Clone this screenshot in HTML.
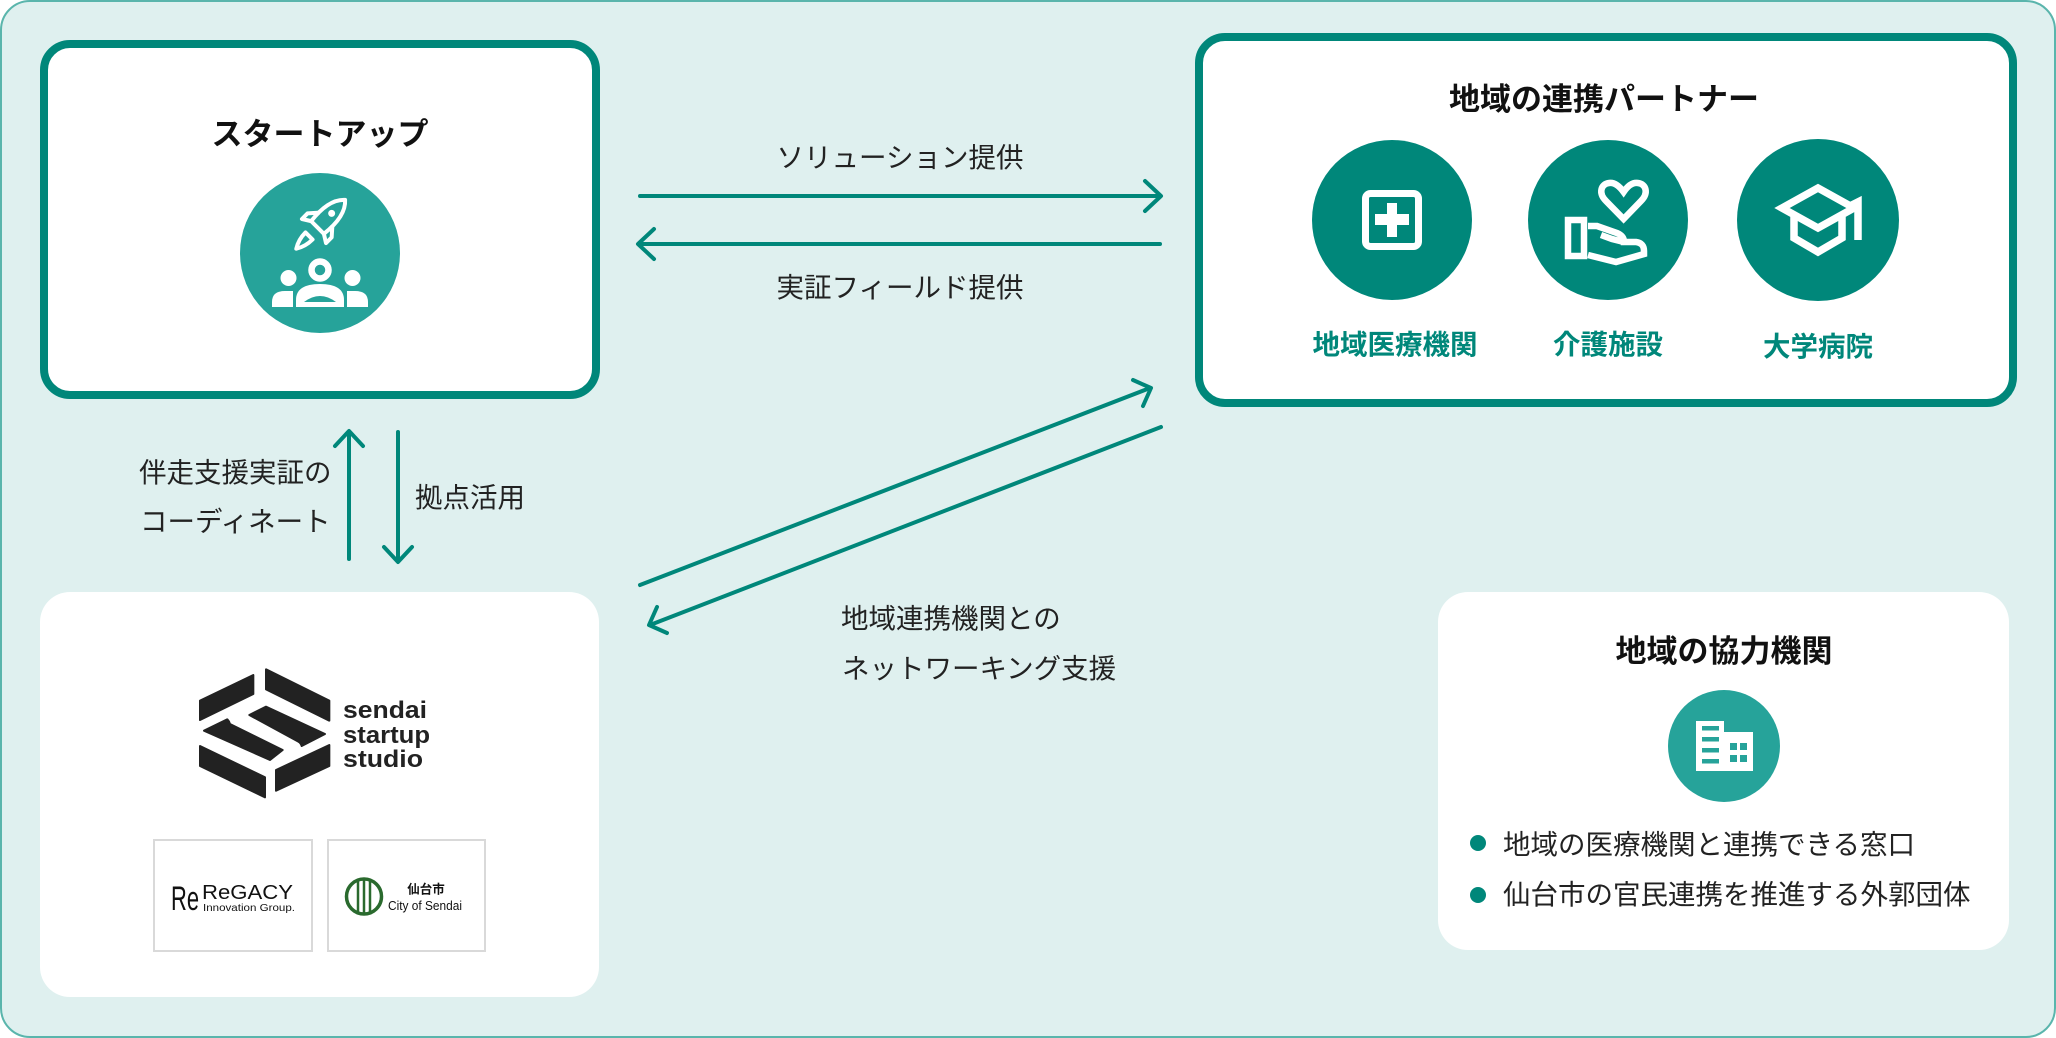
<!DOCTYPE html>
<html><head><meta charset="utf-8">
<style>
html,body{margin:0;padding:0;background:#fff;}
body{width:2056px;height:1038px;overflow:hidden;}
svg{display:block;}
text{font-family:"Liberation Sans","Noto Sans CJK JP",sans-serif;}
</style></head>
<body>
<svg width="2056" height="1038" viewBox="0 0 2056 1038" xmlns="http://www.w3.org/2000/svg">
  <!-- outer frame -->
  <rect x="1" y="1" width="2054" height="1036" rx="29" fill="#dff0ef" stroke="#5ab5ac" stroke-width="2"/>

  <!-- startup box -->
  <rect x="44" y="44" width="552" height="351" rx="26" fill="#fff" stroke="#00877a" stroke-width="8"/>
  <text x="320" y="145" text-anchor="middle" font-size="31" font-weight="bold" fill="#111">スタートアップ</text>
  <circle cx="320" cy="253" r="80" fill="#26a39a"/>
  <!-- rocket -->
  <g transform="translate(326,219) rotate(45)" fill="none" stroke="#fff" stroke-width="4" stroke-linejoin="round">
    <path d="M0,-27 C9,-19 11,-5 9,12 L-9,12 C-11,-5 -9,-19 0,-27 Z"/>
    <circle cx="0" cy="-8" r="3.5" fill="#fff" stroke="none"/>
    <path d="M-9,0 L-17,9 L-17,17 L-9,12"/>
    <path d="M9,0 L17,9 L17,17 L9,12"/>
    <path d="M-5,24 Q-5,34 0,42 Q5,34 5,24 Z"/>
  </g>
  <!-- people -->
  <g fill="#fff">
    <circle cx="320" cy="270" r="8.5" fill="none" stroke="#fff" stroke-width="6.5"/>
    <path d="M296,307 L296,300 Q296,284 320,284 Q344,284 344,300 L344,307 Z"/>
    <path d="M304,302 Q320,290 336,302 Z" fill="#26a39a"/>
    <circle cx="288.5" cy="278" r="8"/>
    <path d="M272,307 L272,302 Q272,291 285,291 L293,291 L293,307 Z"/>
    <circle cx="352.5" cy="278" r="8"/>
    <path d="M368,307 L368,302 Q368,291 355,291 L347,291 L347,307 Z"/>
  </g>

  <!-- partner box -->
  <rect x="1199" y="37" width="814" height="366" rx="26" fill="#fff" stroke="#00877a" stroke-width="8"/>
  <text x="1604" y="110" text-anchor="middle" font-size="31" font-weight="bold" fill="#111">地域の連携パートナー</text>
  <circle cx="1392" cy="220" r="80" fill="#00877a"/>
  <circle cx="1608" cy="220" r="80" fill="#00877a"/>
  <circle cx="1818" cy="220" r="81" fill="#00877a"/>
  <!-- medical icon -->
  <rect x="1365.5" y="193.5" width="53" height="53" rx="5" fill="none" stroke="#fff" stroke-width="7"/>
  <rect x="1375" y="214" width="34" height="11" fill="#fff"/>
  <rect x="1387" y="203" width="10" height="34" fill="#fff"/>
  <!-- care icon -->
  <g fill="none" stroke="#fff" stroke-width="6.5" stroke-linejoin="miter">
    <path d="M1623.6,219 L1606,201 C1598,193 1601,184 1609,183 C1615,182 1620,187 1623.6,192 C1627,187 1632,182 1638,183 C1646,184 1649,193 1641,201 Z"/>
    <rect x="1568" y="220" width="16" height="36"/>
    <path d="M1588,226 L1597,226 L1617,233 Q1624,236 1624,242 L1636,242 Q1644,243 1644,251 L1644,254 L1616,262 L1588,255"/>
    <path d="M1601,235 L1612,239 L1624,242"/>
  </g>
  <!-- graduation icon -->
  <g fill="none" stroke="#fff" stroke-width="7.5">
    <path d="M1782,208 L1818,188 L1854,208 L1818,228 Z"/>
    <path d="M1794,217 L1794,238 L1818,252 L1842,238 L1842,217"/>
    <path d="M1850,206 L1858,202 L1858,240"/>
  </g>
  <text x="1395" y="354" text-anchor="middle" font-size="27.5" font-weight="bold" fill="#00877a">地域医療機関</text>
  <text x="1608" y="354" text-anchor="middle" font-size="27.5" font-weight="bold" fill="#00877a">介護施設</text>
  <text x="1818" y="356" text-anchor="middle" font-size="27.5" font-weight="bold" fill="#00877a">大学病院</text>

  <!-- arrows -->
  <g fill="none" stroke="#00877a" stroke-width="4" stroke-linecap="round" stroke-linejoin="round">
    <path d="M640,196 L1160,196"/>
    <path d="M1145,181 L1161,196 L1145,211"/>
    <path d="M1160,244 L639,244"/>
    <path d="M654,229 L638,244 L654,259"/>
    <path d="M349,559 L349,432"/>
    <path d="M335,446 L349,431 L363,446"/>
    <path d="M398,432 L398,561"/>
    <path d="M384,547 L398,562 L412,547"/>
    <path d="M640,585 L1150,388"/>
    <path d="M1133,380 L1151,388 L1143,406"/>
    <path d="M1161,427 L650,625"/>
    <path d="M667,633 L649,625 L657,607"/>
  </g>

  <!-- arrow labels -->
  <g font-size="27.5" fill="#222">
    <text x="900" y="167" text-anchor="middle">ソリューション提供</text>
    <text x="900" y="297" text-anchor="middle">実証フィールド提供</text>
    <text x="139" y="482">伴走支援実証の</text>
    <text x="140" y="531">コーディネート</text>
    <text x="415" y="507">拠点活用</text>
    <text x="841" y="628">地域連携機関との</text>
    <text x="842" y="678">ネットワーキング支援</text>
  </g>

  <!-- sendai startup studio box -->
  <rect x="40" y="592" width="559" height="405" rx="30" fill="#fff"/>
  <svg x="190" y="660" width="150" height="150" viewBox="0 0 450 450">
    <g fill="#222" stroke="#222" stroke-width="6" stroke-linejoin="round">
      <path d="M30,122 L190,45 L190,102 L30,180 Z"/>
      <path d="M228,28 L418,122 L418,182 L228,88 Z"/>
      <path d="M30,258 L225,352 L225,412 L30,318 Z"/>
      <path d="M258,330 L418,255 L418,318 L258,392 Z"/>
      <path d="M42,212 L112,178 Q118,184 120,192 L278,270 L240,300 Z"/>
      <path d="M178,165 L228,140 L405,222 L335,258 Q332,248 325,245 Z"/>
    </g>
  </svg>
  <g font-size="24" font-weight="bold" fill="#222">
    <text x="343" y="718" textLength="84" lengthAdjust="spacingAndGlyphs">sendai</text>
    <text x="343" y="743" textLength="87" lengthAdjust="spacingAndGlyphs">startup</text>
    <text x="343" y="767" textLength="80" lengthAdjust="spacingAndGlyphs">studio</text>
  </g>
  <rect x="154" y="840" width="158" height="111" fill="#fff" stroke="#d9d9d9" stroke-width="2"/>
  <rect x="328" y="840" width="157" height="111" fill="#fff" stroke="#d9d9d9" stroke-width="2"/>
  <text x="171" y="910" font-size="34" fill="#111" textLength="28" lengthAdjust="spacingAndGlyphs">Re</text>
  <text x="202" y="899" font-size="20" fill="#111" textLength="91" lengthAdjust="spacingAndGlyphs">ReGACY</text>
  <text x="203" y="911" font-size="10.5" fill="#111" textLength="92" lengthAdjust="spacingAndGlyphs">Innovation Group.</text>
  <g fill="none" stroke="#2a6a2e">
    <circle cx="364" cy="896.5" r="17.5" stroke-width="3.5"/>
    <path d="M358,881 L358,913 M364,879 L364,914 M370,881 L370,913" stroke-width="2.5"/>
  </g>
  <text x="426" y="893.5" text-anchor="middle" font-size="12.5" font-weight="bold" fill="#111">仙台市</text>
  <text x="388" y="910" font-size="13" fill="#111" textLength="74" lengthAdjust="spacingAndGlyphs">City of Sendai</text>

  <!-- cooperation box -->
  <rect x="1438" y="592" width="571" height="358" rx="30" fill="#fff"/>
  <text x="1724" y="662" text-anchor="middle" font-size="31" font-weight="bold" fill="#111">地域の協力機関</text>
  <circle cx="1724" cy="746" r="56" fill="#26a39a"/>
  <g fill="#fff">
    <rect x="1696" y="721" width="28" height="50"/>
    <rect x="1723" y="732" width="30" height="39"/>
  </g>
  <g fill="#26a39a">
    <rect x="1702" y="726" width="17" height="4.5"/>
    <rect x="1702" y="737" width="17" height="4.5"/>
    <rect x="1702" y="748" width="17" height="4.5"/>
    <rect x="1702" y="759" width="17" height="4.5"/>
    <rect x="1730" y="743" width="7" height="7"/>
    <rect x="1740" y="743" width="7" height="7"/>
    <rect x="1730" y="755" width="7" height="7"/>
    <rect x="1740" y="755" width="7" height="7"/>
  </g>
  <circle cx="1478" cy="843" r="8" fill="#00877a"/>
  <circle cx="1478" cy="895" r="8" fill="#00877a"/>
  <text x="1503" y="854" font-size="27.5" fill="#222">地域の医療機関と連携できる窓口</text>
  <text x="1503" y="904" font-size="27.5" fill="#222">仙台市の官民連携を推進する外郭団体</text>
</svg>
</body></html>
